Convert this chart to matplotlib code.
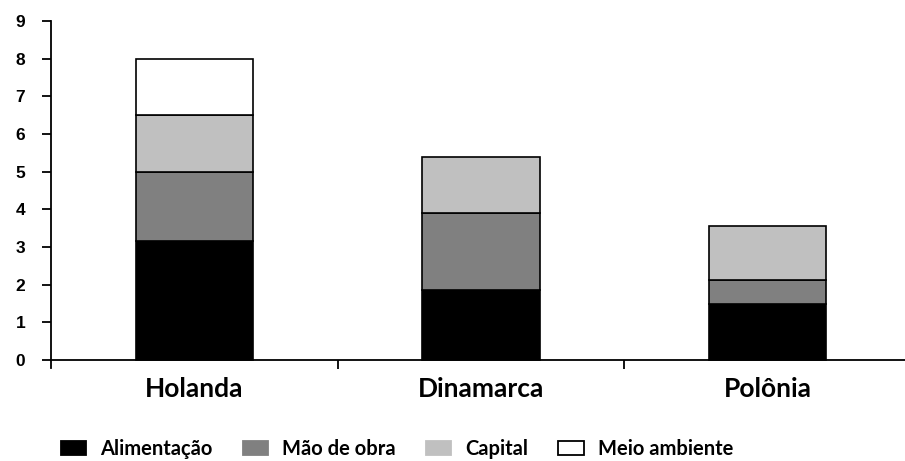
import matplotlib
matplotlib.use('Agg')
import matplotlib.pyplot as plt
from matplotlib.patches import Patch
import numpy as np

# Custos por país, empilhados por componente
paises = ['Holanda', 'Dinamarca', 'Polônia']
componentes = ['Alimentação', 'Mão de obra', 'Capital', 'Meio ambiente']
alimentacao = [3.15, 1.87, 1.5]
mao_de_obra = [1.85, 2.03, 0.62]
capital = [1.5, 1.5, 1.45]
meio_ambiente = [1.5, 0.0, 0.0]
cores = ['#000000', '#808080', '#c0c0c0', '#ffffff']

W, H = 905, 461
fig = plt.figure(figsize=(W / 100, H / 100), dpi=100)
ax = fig.add_axes([51 / W, 1 - 368.3 / H, 1 - 51 / W, (368.3 - 21) / H])

x = np.arange(len(paises))
base = np.zeros(len(paises))
for nome, valores, cor in zip(componentes, [alimentacao, mao_de_obra, capital, meio_ambiente], cores):
    valores = np.array(valores)
    mask = valores > 0
    ax.bar(x[mask], valores[mask], bottom=base[mask], width=0.41, color=cor,
           edgecolor='black', linewidth=1.2, zorder=2)
    base += valores

ax.set_xlim(-0.5, 2.48)
ax.set_ylim(-0.22, 9)
ax.spines['bottom'].set_position(('data', 0))
ax.spines['top'].set_visible(False)
ax.spines['right'].set_visible(False)
for s in ['left', 'bottom']:
    ax.spines[s].set_linewidth(1.3)

ax.set_yticks(range(10))
ax.set_yticklabels([str(i) for i in range(10)], fontfamily='Liberation Sans',
                   fontweight='bold', fontsize=12.5)
ax.tick_params(axis='y', direction='out', length=6.5, width=1.3, pad=12)

# separadores entre categorias no eixo x
ax.set_xticks([0.5, 1.5])
ax.set_xticklabels([])
ax.tick_params(axis='x', direction='out', length=6.5, width=1.3)
for xi, nome in zip(x, paises):
    ax.text(xi, -0.97, nome, ha='center', va='baseline', fontsize=19,
            fontfamily='Lato', fontweight='bold')

handles = [Patch(facecolor=c, edgecolor='black' if c == '#ffffff' else c, linewidth=1.3)
           for c in cores]
fig.legend(handles, componentes, loc='center left', bbox_to_anchor=(61 / W, 1 - 449 / H),
           ncol=4, frameon=False, prop={'family': 'Lato', 'weight': 'bold', 'size': 14.5},
           handlelength=1.25, handleheight=0.75, columnspacing=1.5, handletextpad=0.7,
           borderpad=0, borderaxespad=0)

fig.savefig('out.png', dpi=100)
